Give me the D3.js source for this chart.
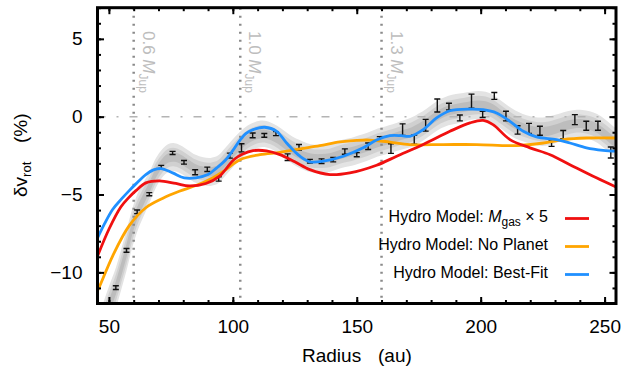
<!DOCTYPE html>
<html>
<head>
<meta charset="utf-8">
<script src="https://cdn.jsdelivr.net/npm/d3@7"></script>
<style>
  body { margin: 0; background: #fff; }
  svg { display: block; }
  text { font-family: "Liberation Sans", Arial, Helvetica, sans-serif; }
</style>
</head>
<body>
<svg id="chart" width="630" height="368"></svg>
<script>
// measured rotation curve residuals
const radius = [52.8, 57.1, 61.4, 66.3, 71.1, 75.7, 80.3, 84.8, 89.7, 94.3, 98.8, 103.5, 108.0, 112.7, 117.4, 122.1, 126.7, 131.1, 135.8, 140.5, 145.2, 150.0, 154.6, 159.3, 163.8, 168.5, 173.2, 177.8, 182.5, 187.2, 191.6, 196.3, 200.8, 205.5, 210.2, 214.9, 219.5, 223.9, 228.6, 233.3, 238.0, 242.6, 247.3, 252.5];
const dvRot = [-10.98, -8.59, -6.11, -4.98, -3.25, -2.33, -2.93, -3.57, -3.38, -4.0, -2.5, -2.0, -1.2, -1.2, -1.09, -2.6, -1.97, -2.86, -2.86, -2.76, -2.24, -2.44, -1.9, -1.43, -2.05, -0.83, -1.47, -0.55, 0.72, 0.65, -0.08, 1.0, 0.15, 1.33, 0.04, -0.85, -0.75, -0.9, -1.71, -1.15, -0.19, -0.58, -0.58, -2.3];
const dvErr = [0.12, 0.12, 0.12, 0.1, 0.12, 0.1, 0.12, 0.16, 0.14, 0.14, 0.16, 0.26, 0.15, 0.12, 0.13, 0.21, 0.18, 0.12, 0.15, 0.14, 0.17, 0.13, 0.21, 0.15, 0.31, 0.37, 0.29, 0.38, 0.42, 0.21, 0.19, 0.45, 0.2, 0.22, 0.31, 0.27, 0.32, 0.29, 0.2, 0.26, 0.32, 0.29, 0.29, 0.35];

// smooth fit band (centre and half width)
const bandR = [47, 50, 52.8, 55, 57.1, 59, 61.4, 64, 66.5, 69, 71.5, 74, 76.5, 79, 82, 85, 88, 91, 94, 97, 100, 103, 106, 109, 112, 115, 118, 121, 124, 127, 130, 133, 136, 139, 142, 145, 148, 151, 154, 157, 160, 163, 166, 169, 172, 175, 178, 181, 184, 187, 190, 193, 196, 199, 202, 205, 208, 211, 214, 217, 220, 223, 226, 229, 232, 235, 238, 241, 244, 247, 250, 253, 256];
const bandMid = [-13.6, -12.2, -11.0, -9.8, -8.6, -7.4, -6.2, -5.3, -4.5, -3.6, -3.0, -2.65, -2.6, -2.75, -3.05, -3.35, -3.5, -3.55, -3.4, -2.9, -2.35, -1.85, -1.45, -1.2, -1.1, -1.2, -1.45, -1.8, -2.15, -2.4, -2.6, -2.7, -2.7, -2.65, -2.5, -2.35, -2.25, -2.1, -1.95, -1.75, -1.6, -1.45, -1.3, -1.15, -1.0, -0.75, -0.45, -0.1, 0.2, 0.4, 0.5, 0.6, 0.7, 0.75, 0.7, 0.5, 0.15, -0.2, -0.5, -0.7, -0.85, -0.95, -0.95, -0.85, -0.7, -0.55, -0.45, -0.45, -0.55, -0.75, -1.1, -1.5, -1.9];
const bandW = [1.3, 1.3, 1.3, 1.3, 1.3, 1.25, 1.2, 1.1, 1.0, 0.95, 0.9, 0.9, 0.9, 0.9, 0.9, 0.9, 0.9, 0.9, 0.9, 0.9, 0.9, 0.9, 0.88, 0.86, 0.85, 0.85, 0.85, 0.86, 0.88, 0.9, 0.9, 0.9, 0.9, 0.9, 0.9, 0.9, 0.9, 0.9, 0.9, 0.9, 0.9, 0.9, 0.9, 0.92, 0.94, 0.95, 0.95, 0.95, 0.95, 0.95, 0.95, 0.92, 0.9, 0.9, 0.9, 0.9, 0.9, 0.9, 0.9, 0.88, 0.88, 0.9, 0.92, 0.92, 0.9, 0.9, 0.88, 0.88, 0.9, 0.92, 0.95, 0.95, 0.95];

// hydro models
const bestR = [44.8, 48, 51.5, 55, 58.2, 61, 64.9, 68, 71, 75.7, 80.4, 85.1, 90, 93.4, 97, 100.1, 102.9, 105.5, 108.2, 112.9, 117.7, 121.7, 127.1, 131.1, 136.5, 144.6, 152.6, 158, 163.4, 168, 171.4, 176.8, 182.2, 187.6, 195.7, 201, 206.4, 211.8, 217.2, 222.5, 230.6, 236, 242.7, 249.4, 255];
const bestV = [-8.0, -6.95, -5.96, -5.3, -4.75, -4.3, -3.72, -3.42, -3.33, -3.61, -3.93, -3.93, -3.72, -3.3, -2.8, -2.15, -1.5, -1.05, -0.83, -0.68, -0.94, -1.69, -2.54, -2.9, -2.86, -2.54, -2.0, -1.5, -1.22, -1.22, -1.26, -0.83, -0.08, 0.38, 0.49, 0.45, 0.24, -0.3, -0.94, -1.3, -1.47, -1.69, -2.0, -2.16, -2.22];
const noPlanetR = [44.8, 46.1, 51.5, 58.2, 64.9, 71.6, 78.4, 85.1, 91.8, 97.2, 102.9, 110.9, 119, 127.1, 135.1, 143.2, 150, 155.3, 163.4, 171.4, 184.9, 198.4, 214.5, 225.3, 233.3, 242.7, 255];
const noPlanetV = [-11.35, -10.95, -8.95, -7.0, -5.85, -5.25, -4.79, -4.42, -3.93, -3.4, -2.76, -2.44, -2.29, -2.07, -1.86, -1.62, -1.52, -1.5, -1.63, -1.79, -1.79, -1.79, -1.86, -1.69, -1.47, -1.37, -1.37];
const gasR = [44.8, 50.1, 54.8, 58, 60.9, 64.9, 70.3, 77, 82.4, 89.1, 94.8, 97.5, 100.5, 104, 108.2, 113.6, 119, 125, 131.1, 139.2, 147.2, 158, 166.1, 176.8, 187.6, 195.7, 201, 205, 211.8, 219.9, 228, 236, 246.7, 255];
const gasV = [-9.2, -7.2, -5.8, -5.2, -4.75, -4.25, -4.12, -4.29, -4.45, -4.29, -3.8, -3.3, -2.75, -2.4, -2.18, -2.2, -2.44, -2.9, -3.4, -3.72, -3.61, -3.12, -2.54, -1.79, -0.94, -0.4, -0.24, -0.51, -1.47, -2.0, -2.44, -3.08, -3.93, -4.55];

// planet locations
const planetR = [60, 103, 160];
const planetLabel = ["0.6", "1.0", "1.3"];

const legendNames = ["Hydro Model: No Planet", "Hydro Model: Best-Fit"];

const svg = d3.select('#chart');

const x = d3.scaleLinear().domain([45.4, 254.6]).range([97.5, 616]);
const y = d3.scaleLinear().domain([-12, 7]).range([303.5, 7.7]);

svg.append('clipPath').attr('id', 'plot')
  .append('rect')
  .attr('x', x.range()[0]).attr('y', y.range()[1])
  .attr('width', x.range()[1] - x.range()[0])
  .attr('height', y.range()[0] - y.range()[1]);

const g = svg.append('g').attr('clip-path', 'url(#plot)');

// band, three shades
const bandData = bandR.map((r, i) => ({ r: r, m: bandMid[i], w: bandW[i] }));
const shades = [[1.0, '#e3e3e3'], [0.66, '#d0d0d0'], [0.33, '#bdbdbd']];
shades.forEach(function (s) {
  g.append('path')
    .datum(bandData)
    .attr('fill', s[1])
    .attr('d', d3.area()
      .curve(d3.curveCatmullRom)
      .x(d => x(d.r))
      .y0(d => y(d.m - s[0] * d.w))
      .y1(d => y(d.m + s[0] * d.w)));
});

// zero line
g.append('line')
  .attr('x1', x.range()[0]).attr('x2', x.range()[1])
  .attr('y1', y(0)).attr('y2', y(0))
  .attr('stroke', '#b4b4b4').attr('stroke-width', 1.5)
  .attr('stroke-dasharray', '8,11,2,11');

// planet lines
g.selectAll('.planet')
  .data(planetR)
  .enter().append('line')
  .attr('x1', d => x(d)).attr('x2', d => x(d))
  .attr('y1', y.range()[1]).attr('y2', y.range()[0])
  .attr('stroke', '#8a8a8a').attr('stroke-width', 2.5)
  .attr('stroke-dasharray', '2,6');

planetR.forEach(function (r, i) {
  const t = svg.append('text')
    .attr('transform', 'translate(' + (x(r) + 9) + ',31) rotate(90)')
    .attr('font-size', 17)
    .attr('fill', '#bdbdbd');
  t.append('tspan').text(planetLabel[i] + ' ');
  t.append('tspan').attr('font-style', 'italic').text('M');
  t.append('tspan').attr('font-size', 12).attr('dy', 4).text('Jup');
});

// error bars
const pts = radius.map((r, i) => ({ r: r, v: dvRot[i], e: dvErr[i] }));
const bars = g.selectAll('.bar').data(pts).enter().append('g')
  .attr('stroke', '#111').attr('stroke-width', 1.4);
bars.append('line')
  .attr('x1', d => x(d.r)).attr('x2', d => x(d.r))
  .attr('y1', d => y(d.v - d.e)).attr('y2', d => y(d.v + d.e));
bars.append('line')
  .attr('x1', d => x(d.r) - 3).attr('x2', d => x(d.r) + 3)
  .attr('y1', d => y(d.v - d.e)).attr('y2', d => y(d.v - d.e));
bars.append('line')
  .attr('x1', d => x(d.r) - 3).attr('x2', d => x(d.r) + 3)
  .attr('y1', d => y(d.v + d.e)).attr('y2', d => y(d.v + d.e));

// model curves
const line = d3.line().curve(d3.curveCatmullRom).x(d => x(d[0])).y(d => y(d[1]));
const models = [
  [noPlanetR, noPlanetV, '#ffa500'],
  [gasR, gasV, '#f01010'],
  [bestR, bestV, '#2090ff']
];
models.forEach(function (m) {
  g.append('path')
    .datum(m[0].map((r, i) => [r, m[1][i]]))
    .attr('fill', 'none')
    .attr('stroke', m[2])
    .attr('stroke-width', 2.8)
    .attr('d', line);
});

// axes: ticks inside on all four sides
const xMajor = [50, 100, 150, 200, 250];
const xMinor = d3.range(50, 255, 10);
const yMajor = [-10, -5, 0, 5];
const yMinor = d3.range(-12, 8, 1);
function ticks(axis, vals, size, tr) {
  const a = svg.append('g').attr('transform', tr)
    .call(axis.tickValues(vals).tickSize(-size).tickFormat(''));
  a.select('.domain').remove();
  a.selectAll('line').attr('stroke', '#000').attr('stroke-width', 2);
}
const bottomY = y.range()[0], topY = y.range()[1];
const leftX = x.range()[0], rightX = x.range()[1];
ticks(d3.axisBottom(x), xMinor, 3.5, 'translate(0,' + bottomY + ')');
ticks(d3.axisBottom(x), xMajor, 6.5, 'translate(0,' + bottomY + ')');
ticks(d3.axisTop(x), xMinor, 3.5, 'translate(0,' + topY + ')');
ticks(d3.axisTop(x), xMajor, 6.5, 'translate(0,' + topY + ')');
ticks(d3.axisLeft(y), yMinor, 3.5, 'translate(' + leftX + ',0)');
ticks(d3.axisLeft(y), yMajor, 6.5, 'translate(' + leftX + ',0)');
ticks(d3.axisRight(y), yMinor, 3.5, 'translate(' + rightX + ',0)');
ticks(d3.axisRight(y), yMajor, 6.5, 'translate(' + rightX + ',0)');

// tick labels
const xl = svg.append('g').attr('transform', 'translate(0,' + bottomY + ')')
  .call(d3.axisBottom(x).tickValues(xMajor).tickSize(0).tickPadding(16));
xl.select('.domain').remove();
const yl = svg.append('g').attr('transform', 'translate(' + leftX + ',0)')
  .call(d3.axisLeft(y).tickValues(yMajor).tickSize(0).tickPadding(15)
    .tickFormat(d => d < 0 ? '\u2212' + Math.abs(d) : d));
yl.select('.domain').remove();
svg.selectAll('.tick text')
  .attr('font-family', '"Liberation Sans", Arial, sans-serif')
  .attr('font-size', 19).attr('fill', '#000');

// frame
svg.append('rect')
  .attr('x', leftX).attr('y', topY)
  .attr('width', rightX - leftX).attr('height', bottomY - topY)
  .attr('fill', 'none').attr('stroke', '#000').attr('stroke-width', 3);

// axis titles
svg.append('text').attr('x', 302).attr('y', 362).attr('font-size', 19).text('Radius');
svg.append('text').attr('x', 378).attr('y', 362).attr('font-size', 19).text('(au)');

const yt = svg.append('text').attr('transform', 'translate(27,197) rotate(-90)').attr('font-size', 19);
yt.append('tspan').text('\u03b4v');
yt.append('tspan').attr('font-size', 13).attr('dy', 4).text('rot');
svg.append('text').attr('transform', 'translate(27,143) rotate(-90)').attr('font-size', 19).text('(%)');

// legend
const legend = svg.append('g');
const ly = [222, 250, 278];
const l1 = legend.append('text').attr('x', 548).attr('y', ly[0])
  .attr('text-anchor', 'end').attr('font-size', 16);
l1.append('tspan').text('Hydro Model: ');
l1.append('tspan').attr('font-style', 'italic').text('M');
l1.append('tspan').attr('font-size', 12).attr('dy', 4).text('gas');
l1.append('tspan').attr('dy', -4).text('  \u00d7 5');
legendNames.forEach(function (n, i) {
  legend.append('text').attr('x', 548).attr('y', ly[i + 1])
    .attr('text-anchor', 'end').attr('font-size', 16).text(n);
});
const legendColors = ['#f01010', '#ffa500', '#2090ff'];
legendColors.forEach(function (c, i) {
  legend.append('line')
    .attr('x1', 565).attr('x2', 589)
    .attr('y1', ly[i] - 3.5).attr('y2', ly[i] - 3.5)
    .attr('stroke', c).attr('stroke-width', 2.8);
});
</script>
</body>
</html>
